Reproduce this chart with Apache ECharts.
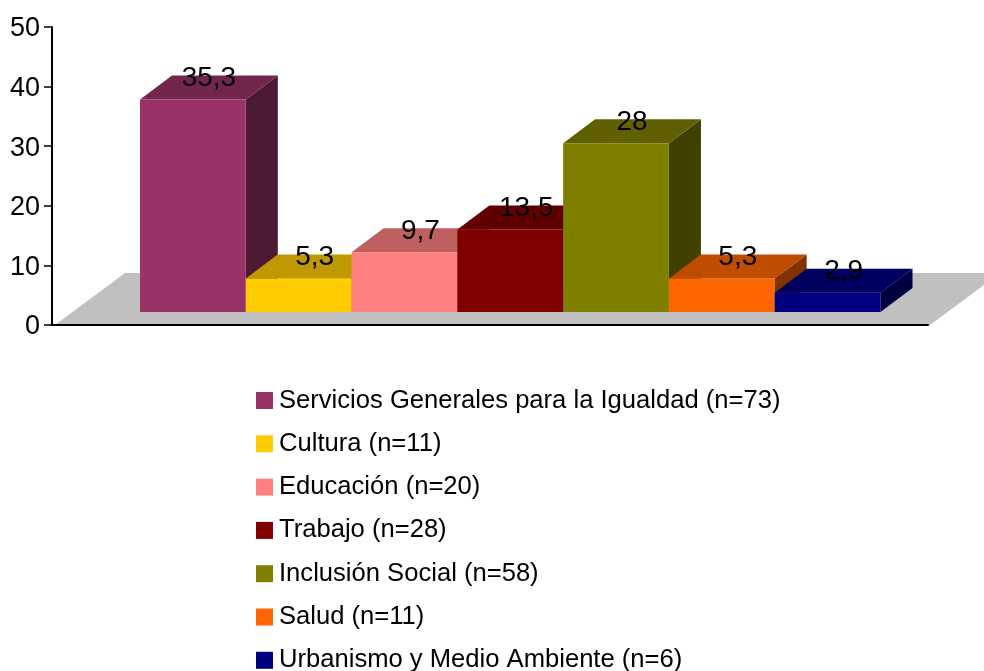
<!DOCTYPE html>
<html style="height: 100%">
<head>
<meta charset="utf-8">
<script src="https://cdn.jsdelivr.net/npm/echarts@6/dist/echarts.min.js"></script>
</head>
<body style="height: 100%; margin: 0; background: #fff">
<div id="container" style="width: 984px; height: 671px"></div>
<script>
var categories = [
    'Servicios Generales para la Igualdad (n=73)',
    'Cultura (n=11)',
    'Educación (n=20)',
    'Trabajo (n=28)',
    'Inclusión Social (n=58)',
    'Salud (n=11)',
    'Urbanismo y Medio Ambiente (n=6)'
];
var values = [35.3, 5.3, 9.7, 13.5, 28, 5.3, 2.9];
var colors = ['#993366', '#FFCC00', '#FF8080', '#800000', '#808000', '#FF6600', '#000080'];
var yTicks = [0, 10, 20, 30, 40, 50];

var fontName = '"Liberation Sans", Arial, sans-serif';
var depthX = 32, depthY = 24;   // fake 3d offset of the bars
var floorX = 70, floorY = 52;   // same for the grey floor
var barsMin = -0.33;            // bars start a little under zero in the original

function shade(hex, k) {
    var n = parseInt(hex.slice(1), 16);
    var r = Math.round((n >> 16 & 255) * k);
    var g = Math.round((n >> 8 & 255) * k);
    var b = Math.round((n & 255) * k);
    return 'rgb(' + r + ',' + g + ',' + b + ')';
}

function renderBar(params, api) {
    var i = api.value(0);
    var v = api.value(1);
    var top = api.coord([i, v]);
    var base = api.coord([i, barsMin]);
    var w = api.size([1, 0])[0];
    var x0 = top[0] - w / 2, x1 = top[0] + w / 2;
    var c = colors[i];
    return {
        type: 'group',
        children: [
            { type: 'polygon', shape: { points: [[x1, top[1]], [x1 + depthX, top[1] - depthY], [x1 + depthX, base[1] - depthY], [x1, base[1]]] },
              style: { fill: shade(c, 0.5) } },
            { type: 'polygon', shape: { points: [[x0, top[1]], [x0 + depthX, top[1] - depthY], [x1 + depthX, top[1] - depthY], [x1, top[1]]] },
              style: { fill: shade(c, 0.75) } },
            { type: 'rect', shape: { x: x0, y: top[1], width: w, height: base[1] - top[1] },
              style: { fill: c } },
            { type: 'text', z2: 50, x: top[0] + 16, y: top[1] - 21,
              style: { text: String(v).replace('.', ','), fill: '#000', font: '28px ' + fontName, align: 'center', verticalAlign: 'middle' } }
        ]
    };
}

function renderFloor(params, api) {
    var s = params.coordSys;
    var y = s.y + s.height;
    return {
        type: 'polygon',
        shape: { points: [[s.x + 3, y], [s.x + 3 + floorX, y - floorY], [s.x + s.width + 2 + floorX, y - floorY], [s.x + s.width + 2, y]] },
        style: { fill: '#C0C0C0' }
    };
}

var series = [{
    name: 'floor',
    type: 'custom',
    xAxisIndex: 0,
    yAxisIndex: 0,
    clip: false,
    silent: true,
    renderItem: renderFloor,
    data: [[0, 0]],
    z: 1
}];
categories.forEach(function (name, i) {
    series.push({
        name: name,
        type: 'custom',
        xAxisIndex: 1,
        yAxisIndex: 1,
        clip: false,
        renderItem: renderBar,
        itemStyle: { color: colors[i] },
        encode: { x: 0, y: 1 },
        data: [[i, values[i]]],
        z: 2 + i
    });
});

var myChart = echarts.init(document.getElementById('container'));
myChart.setOption({
    animation: false,
    legend: {
        orient: 'vertical',
        left: 256,
        top: 387.5,
        height: 320,
        padding: 0,
        itemWidth: 17,
        itemHeight: 17,
        itemGap: 17.3,
        icon: 'rect',
        data: categories,
        selectedMode: false,
        textStyle: { fontFamily: fontName, fontSize: 25.6, color: '#000', padding: [0, 0, 0, 1] }
    },
    grid: [
        { left: 52, top: 27, width: 876, height: 298 },
        { left: 140, top: 12, width: 740.5, height: 300 }
    ],
    xAxis: [
        {
            type: 'category', gridIndex: 0, data: [''], z: 5,
            axisLine: { lineStyle: { color: '#000', width: 2 } },
            axisTick: { length: 8, lineStyle: { color: '#000', width: 1.5 } },
            axisLabel: { show: false }
        },
        {
            type: 'category', gridIndex: 1, data: categories, show: false
        }
    ],
    yAxis: [
        {
            type: 'value', gridIndex: 0, min: yTicks[0], max: yTicks[yTicks.length - 1], interval: 10, z: 5,
            axisLine: { show: true, lineStyle: { color: '#000', width: 2 } },
            axisTick: { show: true, length: 8, lineStyle: { color: '#000', width: 1.5 } },
            splitLine: { show: false },
            axisLabel: {
                margin: 12,
                formatter: '{t|{value}}',
                rich: { t: { fontFamily: fontName, fontSize: 27, color: '#000', padding: [4, 0, 0, 0] } }
            }
        },
        {
            type: 'value', gridIndex: 1, min: barsMin, max: 50, show: false, splitLine: { show: false }
        }
    ],
    series: series
});
</script>
</body>
</html>
